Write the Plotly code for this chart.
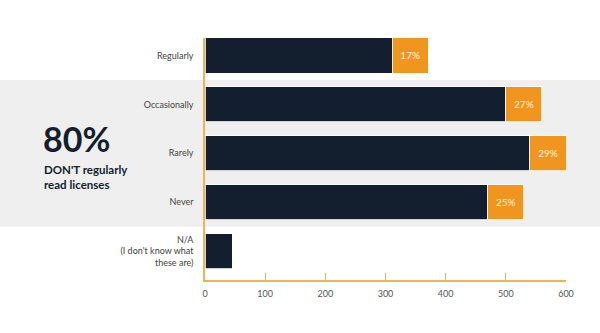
import plotly.graph_objects as go

categories = ["Regularly", "Occasionally", "Rarely", "Never",
              "N/A<br>(I don't know what<br>these are)"]
responses = [311, 500, 540, 470, 45]
label_box = [60, 60, 60, 60, 0]
pct_labels = ["17%", "27%", "29%", "25%", ""]
x_ticks = [0, 100, 200, 300, 400, 500, 600]

DARK = "#131e2e"
ORANGE = "#f0961f"
AXIS = "#f3b254"
FONT = "Lato"

fig = go.Figure()
fig.add_trace(go.Bar(
    y=categories, x=responses, orientation="h",
    marker=dict(color=DARK, line=dict(color="#ffffff", width=0.8)),
    width=0.72, hoverinfo="skip",
))
fig.add_trace(go.Bar(
    y=categories, x=label_box, orientation="h",
    marker=dict(color=ORANGE, line=dict(color="#ffffff", width=0.8)),
    width=0.72, text=pct_labels, textposition="inside",
    insidetextanchor="middle",
    textfont=dict(color="#fdf3e4", size=10, family=FONT),
    hoverinfo="skip",
))

fig.add_shape(type="rect", xref="paper", yref="y", x0=-1, x1=2,
              y0=0.5, y1=3.5, fillcolor="#efefef", line=dict(width=0),
              layer="below")

fig.add_annotation(text="<b>80%</b>", xref="paper", yref="paper",
                   x=-0.455, y=0.585, xanchor="left", yanchor="middle",
                   showarrow=False,
                   font=dict(family=FONT, size=34, color=DARK))
fig.add_annotation(text="<b>DON'T regularly<br>read licenses</b>",
                   xref="paper", yref="paper", x=-0.452, y=0.425,
                   xanchor="left", yanchor="middle", align="left",
                   showarrow=False,
                   font=dict(family=FONT, size=11.5, color=DARK))

fig.update_layout(
    width=600, height=333, barmode="stack", showlegend=False,
    paper_bgcolor="white", plot_bgcolor="rgba(0,0,0,0)",
    margin=dict(l=205, r=34, t=38, b=52.5, autoexpand=False),
    bargap=0.28,
    font=dict(family=FONT, color="#3d3d3d", size=9),
)
fig.update_xaxes(
    range=[0, 600], tickvals=x_ticks, showgrid=False, zeroline=False,
    showline=True, linecolor=AXIS, linewidth=1.5,
    ticks="inside", ticklen=7, tickcolor=AXIS, tickwidth=1.2,
    ticklabelstandoff=4,
    tickfont=dict(size=9, color="#555"), fixedrange=True,
)
fig.update_yaxes(
    type="category", categoryorder="array", categoryarray=categories,
    range=[4.59, -0.357], showgrid=False, zeroline=False,
    showline=True, linecolor=AXIS, linewidth=1.5, ticks="",
    ticklabelstandoff=8, tickfont=dict(size=9, color="#444"),
)

fig.write_html("out.html")
